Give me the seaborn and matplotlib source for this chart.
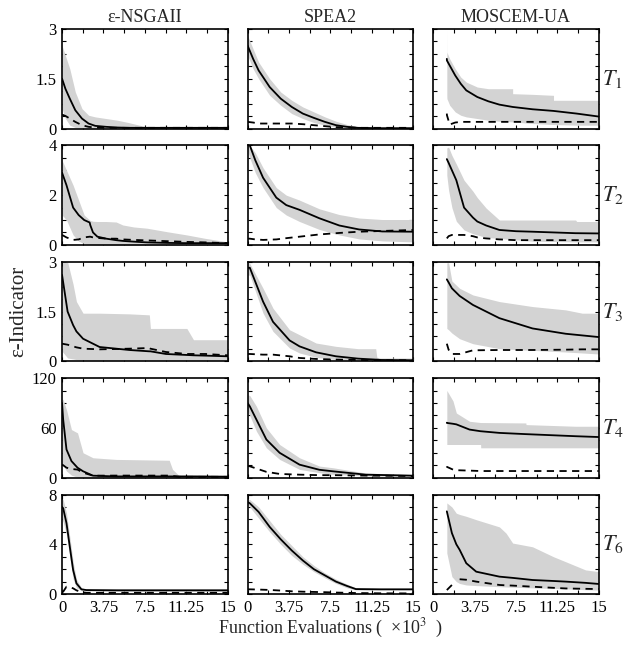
import matplotlib
matplotlib.use('Agg')
import matplotlib.pyplot as plt
import seaborn as sns
import numpy as np

sns.set_theme(style='ticks')
plt.rcParams['font.family'] = ['Liberation Serif', 'DejaVu Serif']
plt.rcParams['mathtext.fontset'] = 'stix'

BAND = '#d3d3d3'
nan = np.nan

algos = ['\u03b5-NSGAII', 'SPEA2', 'MOSCEM-UA']
tests = ['$T_1$', '$T_2$', '$T_3$', '$T_4$', '$T_6$']
ylims = [3, 4, 3, 120, 8]
xticks = [0, 3.75, 7.5, 11.25, 15]

# ---- T1 ----
nsga_t1_x = [0, 0.3, 0.7, 1.2, 1.8, 2.4, 3, 4, 5, 6, 7, 8, 10, 12, 15]
nsga_t1_hi = [2.5, 2.2, 1.8, 1.1, 0.6, 0.4, 0.35, 0.3, 0.25, 0.18, 0.1, 0.03, 0.02, 0.02, 0.02]
nsga_t1_lo = [0.6, 0.3, 0.1, 0.03, 0.01, 0, 0, 0, 0, 0, 0, 0, 0, 0, 0]
nsga_t1_mean = [1.5, 1.2, 0.9, 0.55, 0.3, 0.15, 0.08, 0.05, 0.03, 0.02, 0.02, 0.02, 0.02, 0.02, 0.02]
nsga_t1_dash = [0.42, 0.38, 0.3, 0.2, 0.1, 0.05, 0.03, 0.02, 0.02, 0.02, 0.02, 0.02, 0.02, 0.02, 0.02]

spea_t1_x = [0, 0.5, 1, 1.5, 2, 3, 4, 5, 6, 7, 8, 9, 10, 12, 15]
spea_t1_hi = [2.8, 2.4, 2.0, 1.75, 1.5, 1.1, 0.85, 0.65, 0.5, 0.35, 0.22, 0.12, 0.05, 0.02, 0.02]
spea_t1_lo = [2.2, 1.8, 1.5, 1.25, 1.0, 0.7, 0.45, 0.3, 0.18, 0.1, 0.04, 0.01, 0, 0, 0]
spea_t1_mean = [2.5, 2.1, 1.75, 1.5, 1.25, 0.9, 0.65, 0.45, 0.32, 0.2, 0.1, 0.05, 0.02, 0.01, 0.01]
spea_t1_dash = [0.2, 0.18, 0.15, 0.15, 0.15, 0.15, 0.15, 0.13, 0.1, 0.07, 0.04, 0.03, 0.02, 0.02, 0.02]

mosc_t1_x = [1.24, 1.25, 1.5, 2, 2.5, 3, 4, 5, 6, 7.2, 7.2, 9, 10.9, 10.9, 13, 15]
mosc_t1_hi = [3.0, 2.3, 2.1, 1.8, 1.55, 1.4, 1.25, 1.2, 1.2, 1.2, 1.05, 1.03, 1.0, 0.85, 0.85, 0.85]
mosc_t1_lo = [1.0, 0.9, 0.7, 0.5, 0.4, 0.35, 0.3, 0.25, 0.22, 0.2, 0.2, 0.15, 0.12, 0.12, 0.1, 0.1]
mosc_t1_mean = [2.1, 2.05, 1.9, 1.6, 1.35, 1.15, 0.95, 0.82, 0.72, 0.65, 0.65, 0.58, 0.53, 0.53, 0.45, 0.36]
mosc_t1_dash = [0.45, 0.4, 0.12, 0.18, 0.2, 0.2, 0.2, 0.2, 0.2, 0.2, 0.2, 0.2, 0.2, 0.2, 0.2, 0.2]

# ---- T2 ----
nsga_t2_x = [0, 0.4, 1.0, 1.5, 2.0, 2.5, 2.55, 2.8, 3.2, 4, 4.9, 5.5, 6.5, 7.7, 9.5, 11.3, 13, 15]
nsga_t2_hi = [3.4, 3.0, 2.4, 1.8, 1.2, 1.0, 0.98, 0.95, 0.94, 0.94, 0.92, 0.8, 0.72, 0.67, 0.53, 0.4, 0.26, 0.12]
nsga_t2_lo = [1.2, 1.0, 0.4, 0.15, 0.05, 0.02, 0.02, 0.01, 0, 0, 0, 0, 0, 0, 0, 0, 0, 0]
nsga_t2_mean = [2.9, 2.4, 1.5, 1.2, 1.0, 0.9, 0.8, 0.5, 0.33, 0.25, 0.19, 0.16, 0.13, 0.1, 0.08, 0.07, 0.07, 0.07]
nsga_t2_dash = [0.4, 0.3, 0.2, 0.22, 0.3, 0.33, 0.33, 0.3, 0.28, 0.25, 0.25, 0.22, 0.2, 0.18, 0.15, 0.12, 0.1, 0.07]

spea_t2_x = [0, 0.2, 0.7, 1.4, 2.6, 3.5, 4.7, 6.5, 8.3, 10.1, 12.2, 15]
spea_t2_hi = [4.0, 4.0, 3.7, 3.1, 2.3, 2.0, 1.8, 1.45, 1.22, 1.08, 1.02, 1.02]
spea_t2_lo = [3.8, 3.5, 2.9, 2.3, 1.5, 1.2, 0.94, 0.62, 0.4, 0.24, 0.16, 0.12]
spea_t2_mean = [4.0, 4.0, 3.4, 2.7, 1.9, 1.6, 1.41, 1.07, 0.78, 0.62, 0.54, 0.53]
spea_t2_dash = [0.25, 0.25, 0.22, 0.2, 0.22, 0.27, 0.33, 0.42, 0.48, 0.53, 0.56, 0.6]

mosc_t2_x = [1.24, 1.4, 1.7, 2.1, 2.8, 3.6, 4.0, 4.8, 6.0, 7.5, 9, 12.9, 13, 15]
mosc_t2_hi = [3.9, 3.93, 3.6, 3.25, 2.6, 2.16, 1.9, 1.48, 1.0, 1.0, 1.0, 1.0, 0.94, 0.94]
mosc_t2_lo = [2.8, 2.2, 1.5, 0.95, 0.6, 0.45, 0.4, 0.3, 0.26, 0.2, 0.15, 0.12, 0.12, 0.12]
mosc_t2_mean = [3.45, 3.3, 3.0, 2.6, 1.5, 1.1, 0.94, 0.78, 0.6, 0.55, 0.53, 0.47, 0.47, 0.46]
mosc_t2_dash = [0.26, 0.35, 0.4, 0.4, 0.4, 0.35, 0.3, 0.26, 0.22, 0.19, 0.19, 0.19, 0.19, 0.19]

# ---- T3 ----
nsga_t3_x = [0, 0.5, 1.0, 1.3, 1.9, 3.4, 6.1, 7.9, 8.0, 9.4, 11.3, 11.9, 13, 15]
nsga_t3_hi = [3, 3, 2.32, 1.8, 1.45, 1.45, 1.43, 1.4, 0.99, 0.99, 0.99, 0.65, 0.65, 0.65]
nsga_t3_lo = [0.3, 0.1, 0.07, 0.05, 0.04, 0.03, 0.03, 0.03, 0.03, 0.03, 0.03, 0.03, 0.03, 0.03]
nsga_t3_mean = [2.6, 1.5, 1.09, 0.9, 0.68, 0.43, 0.34, 0.3, 0.3, 0.22, 0.19, 0.18, 0.17, 0.15]
nsga_t3_dash = [0.53, 0.5, 0.45, 0.42, 0.38, 0.36, 0.38, 0.4, 0.38, 0.28, 0.22, 0.22, 0.22, 0.18]

spea_t3_x = [0, 0.2, 1.4, 2.3, 3.8, 4.7, 6.2, 8, 10, 11.6, 11.7, 12, 15]
spea_t3_hi = [3.0, 2.95, 2.2, 1.6, 0.95, 0.8, 0.55, 0.45, 0.38, 0.38, 0.12, 0.1, 0.1]
spea_t3_lo = [2.6, 2.6, 1.45, 0.9, 0.4, 0.25, 0.12, 0.05, 0.02, 0.01, 0.01, 0.01, 0.01]
spea_t3_mean = [2.82, 2.82, 1.8, 1.19, 0.63, 0.45, 0.27, 0.15, 0.08, 0.05, 0.05, 0.04, 0.03]
spea_t3_dash = [0.22, 0.22, 0.2, 0.2, 0.15, 0.1, 0.07, 0.05, 0.04, 0.03, 0.03, 0.03, 0.03]

mosc_t3_x = [1.24, 1.4, 1.7, 2.4, 3.6, 6.0, 9.0, 12, 13.5, 15]
mosc_t3_hi = [2.97, 2.97, 2.42, 2.2, 2.0, 1.8, 1.65, 1.55, 1.45, 1.45]
mosc_t3_lo = [0.99, 0.95, 0.85, 0.68, 0.53, 0.38, 0.33, 0.28, 0.25, 0.22]
mosc_t3_mean = [2.47, 2.38, 2.2, 1.97, 1.7, 1.3, 0.99, 0.83, 0.78, 0.73]
mosc_t3_dash = [0.53, 0.35, 0.22, 0.22, 0.33, 0.34, 0.34, 0.35, 0.36, 0.36]

# ---- T4 ----
nsga_t4_x = [0, 0.1, 0.4, 0.85, 1.4, 1.9, 2.8, 4.9, 9.7, 10.0, 10.6, 12, 15]
nsga_t4_hi = [95, 94, 82, 58, 54, 30, 24, 22, 21, 10, 2.4, 1.5, 1.5]
nsga_t4_lo = [20, 15, 8, 3, 0.5, 0, 0, 0, 0, 0, 0, 0, 0]
nsga_t4_mean = [90, 70, 34, 20, 12, 7.7, 2.4, 1.5, 1.5, 1.5, 1.5, 1.5, 1.2]
nsga_t4_dash = [16, 15, 12, 10.5, 9.7, 6, 2.4, 2.5, 2.5, 2.0, 1.0, 1.0, 1.0]

spea_t4_x = [0, 0.2, 0.8, 1.7, 2.9, 4.7, 6.5, 7.7, 10.7, 15]
spea_t4_hi = [100, 99, 86, 60, 40, 24, 14, 12, 5.6, 3.6]
spea_t4_lo = [80, 75, 56, 36, 22, 10, 6, 4, 2, 1.5]
spea_t4_mean = [90, 86, 70, 46, 30, 15.7, 9.5, 7.7, 3.6, 2.4]
spea_t4_dash = [14, 13.7, 11, 7, 4.5, 3.6, 3.0, 3.0, 2.5, 2.0]

mosc_t4_x = [1.24, 1.25, 1.8, 2.1, 3.3, 4.3, 4.31, 6.0, 8.4, 8.41, 12.9, 15]
mosc_t4_hi = [105, 105, 92.5, 78, 68, 66.5, 66.5, 66.3, 66, 64, 62, 62]
mosc_t4_lo = [40, 40, 40, 40, 40, 40, 36, 36, 36, 36, 36, 36]
mosc_t4_mean = [66.3, 66, 65, 64.3, 58, 56, 56, 54, 52.5, 52.5, 50, 49]
mosc_t4_dash = [13.7, 13, 9.7, 9, 8.5, 8, 8, 8, 8, 8, 8, 8]

# ---- T6 ----
nsga_t6_x = [0, 0.1, 0.4, 0.7, 1.0, 1.3, 1.75, 2.2, 5, 10, 15]
nsga_t6_hi = [7.6, 7.6, 6.5, 4.6, 2.6, 1.2, 0.5, 0.4, 0.4, 0.4, 0.4]
nsga_t6_lo = [6.0, 5.8, 4.8, 3.0, 1.2, 0.5, 0.28, 0.25, 0.22, 0.22, 0.22]
nsga_t6_mean = [7.0, 6.9, 5.7, 3.8, 1.94, 0.86, 0.38, 0.32, 0.3, 0.3, 0.3]
nsga_t6_dash = [0.15, 0.19, 0.59, 0.55, 0.46, 0.3, 0.15, 0.1, 0.1, 0.1, 0.1]

spea_t6_x = [0, 0.2, 1, 2, 3, 4, 5, 6, 7, 8, 9, 9.8, 12, 15]
spea_t6_hi = [7.6, 7.6, 7.0, 5.9, 4.8, 3.9, 3.0, 2.3, 1.7, 1.2, 0.8, 0.5, 0.45, 0.45]
spea_t6_lo = [7.2, 7.0, 6.1, 5.0, 4.0, 3.1, 2.4, 1.8, 1.3, 0.85, 0.5, 0.33, 0.33, 0.33]
spea_t6_mean = [7.4, 7.3, 6.6, 5.4, 4.4, 3.5, 2.7, 2.0, 1.5, 1.0, 0.65, 0.4, 0.38, 0.38]
spea_t6_dash = [0.38, 0.38, 0.36, 0.33, 0.28, 0.22, 0.19, 0.17, 0.15, 0.12, 0.1, 0.08, 0.06, 0.05]

mosc_t6_x = [1.24, 1.7, 2.1, 2.4, 3.0, 3.9, 6.0, 6.6, 7.2, 9, 10.9, 12, 13.8, 15]
mosc_t6_hi = [7.33, 7.0, 6.5, 6.4, 6.25, 5.98, 5.4, 4.9, 4.1, 3.8, 3.0, 2.6, 1.94, 1.8]
mosc_t6_lo = [3.3, 1.4, 1.0, 0.85, 0.73, 0.68, 0.59, 0.57, 0.55, 0.5, 0.45, 0.42, 0.35, 0.32]
mosc_t6_mean = [6.65, 4.9, 4.0, 3.56, 2.48, 1.8, 1.4, 1.35, 1.3, 1.13, 1.05, 1.0, 0.9, 0.81]
mosc_t6_dash = [0.32, 0.73, nan, 1.19, 1.15, 1.0, 0.73, 0.7, 0.68, 0.59, 0.5, 0.45, 0.42, 0.4]

g = globals()
fig, axes = plt.subplots(5, 3, figsize=(6.27, 6.45), dpi=100)
fig.subplots_adjust(left=0.099, right=0.955, top=0.955, bottom=0.079,
                    wspace=0.12, hspace=0.17)

for r, t in enumerate(['t1', 't2', 't3', 't4', 't6']):
    for c, a in enumerate(['nsga', 'spea', 'mosc']):
        ax = axes[r, c]
        key = f'{a}_{t}'
        x = g[key + '_x']
        ax.fill_between(x, g[key + '_lo'], g[key + '_hi'], color=BAND, lw=0, zorder=1)
        sns.lineplot(x=x, y=g[key + '_mean'], ax=ax, color='black', lw=1.3,
                     estimator=None, sort=False, zorder=3)
        ax.plot(x, g[key + '_dash'], color='black', lw=1.3, dashes=(4, 3), zorder=2)

        top = ylims[r]
        ax.set_xlim(0, 15)
        ax.set_ylim(0, top)
        ax.set_xticks(np.linspace(0, 15, 9))
        ax.set_yticks(np.linspace(0, top, 9))
        if r == 4:
            ax.set_xticklabels([f'{v:g}' if v in xticks else '' for v in np.linspace(0, 15, 9)])
        else:
            ax.set_xticklabels([])
        if c == 0:
            yl = [0, top / 2, top]
            ax.set_yticklabels([f'{v:g}' if v in yl else '' for v in np.linspace(0, top, 9)])
        else:
            ax.set_yticklabels([])
        ax.tick_params(direction='in', length=3, width=0.8, top=True, right=True,
                       labelsize=12, pad=4, colors='black')
        for s in ax.spines.values():
            s.set_linewidth(1.2)
            s.set_color('black')
        if r == 0:
            ax.set_title(algos[c], fontsize=13, pad=5)
        if c == 2:
            ax.text(1.02, 0.5, tests[r], transform=ax.transAxes, fontsize=16,
                    ha='left', va='center')

fig.text(0.03, 0.517, '\u03b5-Indicator', rotation=90, fontsize=15,
         ha='center', va='center')
fig.text(0.527, 0.026, 'Function Evaluations (  \u00d710$^{3}$  )', fontsize=13,
         ha='center', va='center')

fig.savefig('out.png', dpi=100)
